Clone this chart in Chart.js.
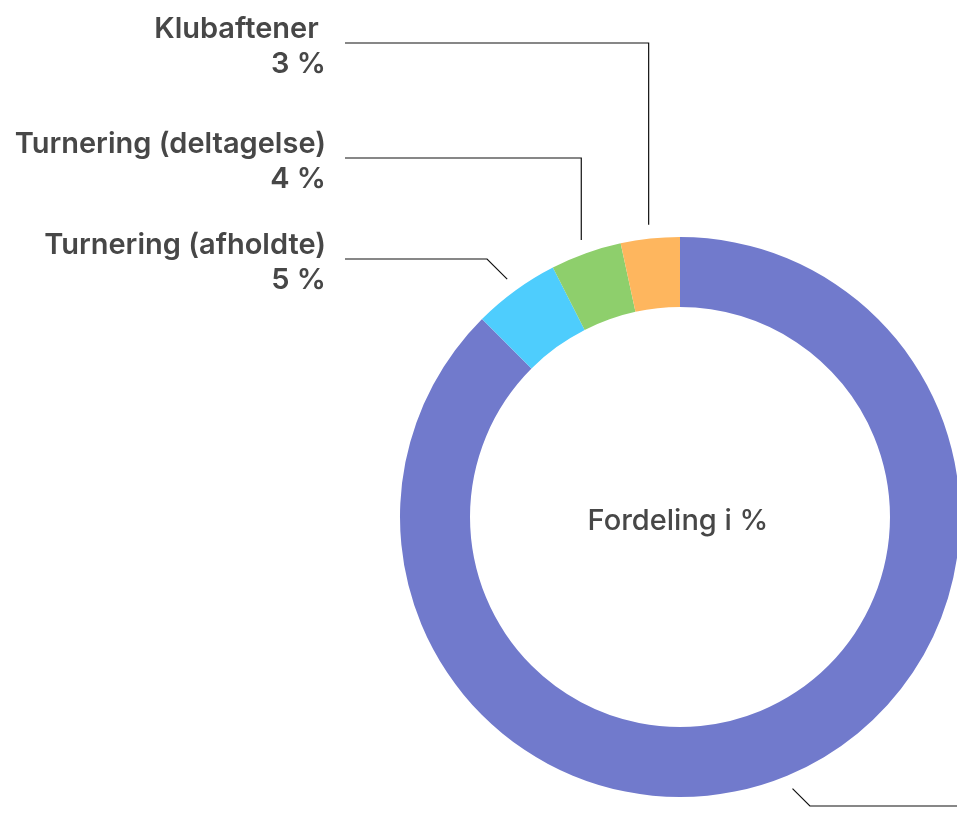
<!DOCTYPE html>
<html>
<head>
<meta charset="utf-8">
<script src="https://cdn.jsdelivr.net/npm/chart.js@4/dist/chart.umd.min.js"></script>
<style>
  html, body { margin: 0; padding: 0; background: #fff; overflow: hidden; }
  #wrap { width: 960px; height: 839px; position: relative; }
</style>
</head>
<body>
<div id="wrap"><canvas id="donut"></canvas></div>
<script>
// data
const sliceNames = ['Træning', 'Turnering (afholdte)', 'Turnering (deltagelse)', 'Klubaftener '];
const shares = [87.5, 5, 4.1, 3.4];
const centerTitle = 'Fordeling i %';

const sliceColors = ['#717acc', '#4ecdfd', '#8ecf6c', '#feb65e'];
const labelRows = [806, 259, 158, 43]; // y of each connector's horizontal run
const LABEL_FONT = '600 29px Inter, "Liberation Sans", sans-serif';
const TITLE_FONT = '500 29px Inter, "Liberation Sans", sans-serif';

const calloutPlugin = {
    id: 'callouts',
    afterDraw(chart) {
        const ctx = chart.ctx;
        const meta = chart.getDatasetMeta(0);
        ctx.save();
        meta.data.forEach(function (arc, i) {
            const p = arc.getProps(['x', 'y', 'startAngle', 'endAngle', 'outerRadius'], true);
            const mid = (p.startAngle + p.endAngle) / 2;
            const r0 = p.outerRadius + 14;
            const x0 = p.x + Math.cos(mid) * r0;
            const y0 = p.y + Math.sin(mid) * r0;
            const rowY = labelRows[i];
            const dy = rowY - y0;
            const right = Math.cos(mid) >= 0;
            let x1 = x0;
            if (Math.abs(dy) < 30) x1 = x0 + (right ? 1 : -1) * Math.abs(dy);
            const xEnd = right ? 1015 : 345;

            ctx.strokeStyle = '#111';
            ctx.lineWidth = 1.2;
            ctx.beginPath();
            ctx.moveTo(x0, y0);
            ctx.lineTo(x1, rowY);
            ctx.lineTo(xEnd, rowY);
            ctx.stroke();

            ctx.fillStyle = '#474747';
            ctx.font = LABEL_FONT;
            ctx.textBaseline = 'alphabetic';
            ctx.textAlign = right ? 'left' : 'right';
            const tx = right ? xEnd + 16 : 326;
            ctx.fillText(sliceNames[i], tx, rowY - 5);
            ctx.fillText(Math.round(shares[i]) + ' %', tx, rowY + 30);
        });

        // centre title
        const a = meta.data[0];
        ctx.fillStyle = '#474747';
        ctx.font = TITLE_FONT;
        ctx.textAlign = 'center';
        ctx.textBaseline = 'alphabetic';
        ctx.fillText(centerTitle, a.x - 2, a.y + 13);
        ctx.restore();
    }
};

const chart = new Chart(document.getElementById('donut').getContext('2d'), {
    type: 'doughnut',
    data: {
        labels: sliceNames,
        datasets: [{
            data: shares,
            backgroundColor: sliceColors,
            borderWidth: 0
        }]
    },
    options: {
        responsive: true,
        maintainAspectRatio: false,
        animation: false,
        cutout: '75%',
        layout: { padding: { top: 237, bottom: 42, left: 400, right: 0 } },
        plugins: {
            legend: { display: false },
            tooltip: { enabled: false }
        }
    },
    plugins: [calloutPlugin]
});
</script>
</body>
</html>
